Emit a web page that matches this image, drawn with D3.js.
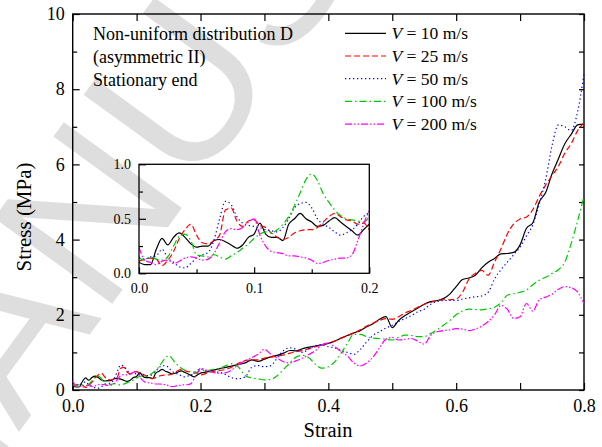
<!DOCTYPE html>
<html>
<head>
<meta charset="utf-8">
<script src="https://cdn.jsdelivr.net/npm/d3@7"></script>
<style>
  body { margin: 0; background: #fff; }
  text { font-family: "Liberation Serif", "Times New Roman", serif; fill: #000; }
</style>
</head>
<body>
<svg id="chart" width="602" height="447"></svg>
<script>
// strain samples: fine steps up to 0.2 (inset range), then 0.01 steps
var strain = [0,0.005,0.01,0.015,0.02,0.025,0.03,0.035,0.04,0.045,0.05,0.055,0.06,0.065,0.07,0.075,0.08,0.085,0.09,0.095,
  0.1,0.105,0.11,0.115,0.12,0.125,0.13,0.135,0.14,0.145,0.15,0.155,0.16,0.165,0.17,0.175,0.18,0.185,0.19,0.195,0.2,
  0.21,0.22,0.23,0.24,0.25,0.26,0.27,0.28,0.29,0.3,0.31,0.32,0.33,0.34,0.35,0.36,0.37,0.38,0.39,0.4,
  0.41,0.42,0.43,0.44,0.45,0.46,0.47,0.48,0.49,0.5,0.51,0.52,0.53,0.54,0.55,0.56,0.57,0.58,0.59,0.6,
  0.61,0.62,0.63,0.64,0.65,0.66,0.67,0.68,0.69,0.7,0.71,0.72,0.73,0.74,0.75,0.76,0.77,0.78,0.79,0.8];

// stress (MPa) for each impact velocity
var v10 = [0.10,0.08,0.08,0.22,0.32,0.26,0.33,0.37,0.33,0.27,0.24,0.25,0.25,0.30,0.31,0.29,0.26,0.23,0.26,0.33,
  0.36,0.46,0.36,0.33,0.33,0.30,0.45,0.50,0.55,0.50,0.47,0.43,0.44,0.48,0.51,0.47,0.43,0.39,0.35,0.40,0.45,
  0.48,0.53,0.57,0.60,0.64,0.68,0.72,0.80,0.76,0.82,0.88,0.92,0.98,1.05,1.04,1.10,1.14,1.17,1.20,1.24,
  1.30,1.38,1.45,1.52,1.58,1.68,1.76,1.88,1.95,1.66,1.85,1.98,2.08,2.18,2.28,2.35,2.38,2.43,2.55,2.75,
  2.94,2.98,3.05,3.25,3.40,3.50,3.62,3.63,3.66,3.86,4.30,4.45,5.00,5.25,5.75,6.15,6.55,6.80,7.05,7.07];
var v25 = [0.11,0.13,0.14,0.13,0.07,0.12,0.20,0.32,0.40,0.45,0.35,0.28,0.27,0.30,0.35,0.58,0.60,0.48,0.43,0.48,
  0.49,0.44,0.42,0.37,0.33,0.31,0.33,0.37,0.39,0.40,0.40,0.42,0.47,0.52,0.55,0.52,0.49,0.48,0.45,0.46,0.40,
  0.45,0.50,0.52,0.55,0.62,0.72,0.78,0.80,0.80,0.85,0.88,0.90,0.93,0.98,1.02,1.05,1.10,1.15,1.20,1.25,
  1.30,1.38,1.45,1.52,1.60,1.70,1.78,1.85,1.90,1.88,1.95,2.05,2.12,2.20,2.28,2.33,2.38,2.40,2.40,2.42,
  2.60,2.95,3.10,3.18,3.05,3.40,3.75,4.15,4.42,4.55,4.60,4.80,5.15,5.45,5.70,5.95,6.30,6.55,6.90,7.10];
var v50 = [0.15,0.13,0.15,0.16,0.22,0.14,0.10,0.06,0.05,0.09,0.14,0.17,0.19,0.30,0.50,0.66,0.63,0.52,0.46,0.44,
  0.43,0.42,0.40,0.39,0.38,0.42,0.50,0.60,0.64,0.65,0.60,0.50,0.45,0.42,0.38,0.35,0.37,0.40,0.45,0.52,0.56,
  0.50,0.48,0.47,0.40,0.32,0.30,0.35,0.60,0.65,0.62,0.65,0.85,1.05,1.12,1.08,1.00,1.10,1.18,1.20,1.15,
  1.12,1.05,1.00,0.95,1.08,1.28,1.45,1.55,1.65,1.72,1.82,1.90,1.98,2.08,2.15,2.28,2.35,2.38,2.38,2.38,
  2.42,2.45,2.48,2.50,2.60,2.95,3.20,3.40,3.60,3.80,4.10,4.40,4.95,5.60,6.50,7.05,7.00,6.90,7.40,8.40];
var v100 = [0.14,0.12,0.15,0.13,0.12,0.15,0.25,0.34,0.36,0.30,0.17,0.16,0.15,0.17,0.15,0.13,0.16,0.19,0.23,0.27,
  0.32,0.36,0.38,0.37,0.40,0.45,0.52,0.62,0.74,0.86,0.91,0.85,0.73,0.65,0.58,0.53,0.50,0.49,0.48,0.47,0.52,
  0.52,0.55,0.58,0.65,0.70,0.60,0.38,0.32,0.30,0.27,0.28,0.38,0.55,0.72,0.88,0.92,0.85,0.68,0.58,0.62,
  0.75,0.98,1.25,1.48,1.48,1.42,1.38,1.37,1.35,1.33,1.40,1.46,1.45,1.42,1.42,1.50,1.60,1.72,1.85,2.00,
  2.10,2.15,2.14,2.13,2.16,2.20,2.32,2.52,2.56,2.60,2.66,2.80,2.92,3.00,3.10,3.20,3.40,3.90,4.50,5.15];
var v200 = [0.24,0.12,0.10,0.08,0.11,0.12,0.09,0.11,0.14,0.15,0.14,0.12,0.13,0.18,0.28,0.38,0.41,0.40,0.42,0.47,
  0.50,0.35,0.25,0.20,0.19,0.18,0.16,0.16,0.15,0.14,0.12,0.09,0.10,0.12,0.13,0.14,0.14,0.17,0.30,0.45,0.58,
  0.52,0.47,0.44,0.46,0.55,0.68,0.78,0.86,0.95,1.08,0.95,0.85,0.75,0.72,0.78,0.85,0.95,1.05,1.20,1.25,
  1.15,1.02,0.90,0.72,0.64,0.72,0.88,1.12,1.35,1.40,1.33,1.35,1.37,1.30,1.22,1.45,1.55,1.58,1.60,1.63,
  1.62,1.58,1.62,1.70,1.82,2.00,2.25,2.15,1.90,1.95,2.30,2.10,2.40,2.47,2.55,2.68,2.75,2.72,2.60,2.30];

var speeds = ["10", "25", "50", "100", "200"];
var xTickVals = [0, 0.2, 0.4, 0.6, 0.8];
var yTickVals = [0, 2, 4, 6, 8, 10];
var insetXTicks = [0, 0.1, 0.2];
var insetYTicks = [0, 0.5, 1.0];
var note = ["Non-uniform distribution D", "(asymmetric II)", "Stationary end"];

var series = [v10, v25, v50, v100, v200];
var colors = ["#000000", "#ff0000", "#0000ff", "#00c800", "#ff00ff"];
var dashes = [null, "6,3", "1.3,2.7", "7,3,1.5,3", "7,2,1.5,2,1.5,2"];

var svg = d3.select("#chart");

// faint manuscript watermark behind everything
svg.append("text")
    .attr("transform", "translate(-85,575) rotate(-54)")
    .style("font-family", "'Liberation Sans', Arial, sans-serif")
    .style("font-size", "212px")
    .style("fill", "#dedede")
    .text("MANUSCRIPT");

var x = d3.scaleLinear().domain([0, 0.8]).range([72.7, 584]);
var y = d3.scaleLinear().domain([0, 10]).range([390, 14]);

function styleAxis(g, size) {
  g.select(".domain").remove();
  g.selectAll("line").attr("stroke", "#000").attr("stroke-width", 1.2);
  g.selectAll("text").style("font-family", "'Liberation Serif', serif").style("font-size", size + "px").attr("fill", "#000");
}

// main axes, ticks pointing inward
svg.append("g").attr("transform", "translate(0,390)")
    .call(d3.axisBottom(x).tickValues(xTickVals).tickSize(-7).tickPadding(9).tickFormat(d3.format(".1f")))
    .call(styleAxis, 18);
svg.append("g").attr("transform", "translate(0,390)")
    .call(d3.axisBottom(x).tickValues([0.1, 0.3, 0.5, 0.7]).tickSize(-7).tickFormat(""))
    .call(styleAxis, 18);
svg.append("g").attr("transform", "translate(0,14)")
    .call(d3.axisTop(x).ticks(8).tickSize(-7).tickFormat(""))
    .call(styleAxis, 18);
svg.append("g").attr("transform", "translate(72.7,0)")
    .call(d3.axisLeft(y).tickValues(yTickVals).tickSize(-7).tickPadding(8).tickFormat(d3.format("d")))
    .call(styleAxis, 18);
svg.append("g").attr("transform", "translate(72.7,0)")
    .call(d3.axisLeft(y).tickValues([1, 3, 5, 7, 9]).tickSize(-4.5).tickFormat(""))
    .call(styleAxis, 18);
svg.append("g").attr("transform", "translate(584,0)")
    .call(d3.axisRight(y).ticks(10).tickSize(-5).tickFormat(""))
    .call(styleAxis, 18);

svg.append("rect")
    .attr("x", 72.7).attr("y", 14).attr("width", 584 - 72.7).attr("height", 376)
    .attr("fill", "none").attr("stroke", "#000").attr("stroke-width", 1.4);

svg.append("text")
    .attr("x", 328).attr("y", 437).attr("text-anchor", "middle")
    .style("font-size", "20.5px").text("Strain");
svg.append("text")
    .attr("transform", "translate(31,217) rotate(-90)").attr("text-anchor", "middle")
    .style("font-size", "21px").text("Stress (MPa)");

// curves
var mainLine = d3.line()
    .x(function(d, i) { return x(strain[i]); })
    .y(function(d) { return y(d); })
    .curve(d3.curveMonotoneX);

svg.selectAll(".curve")
    .data(series)
    .enter()
    .append("path")
      .attr("class", "curve")
      .attr("d", mainLine)
      .attr("fill", "none")
      .attr("stroke", function(d, i) { return colors[i]; })
      .attr("stroke-width", 1.2)
      .attr("stroke-dasharray", function(d, i) { return dashes[i]; });

// annotation
svg.selectAll(".note")
    .data(note)
    .enter()
    .append("text")
      .attr("class", "note")
      .attr("x", 93)
      .attr("y", function(d, i) { return 39.5 + i * 23.2; })
      .style("font-size", "18px")
      .text(function(d) { return d; });

// legend
var leg = svg.selectAll(".leg")
    .data(speeds)
    .enter()
    .append("g")
      .attr("class", "leg")
      .attr("transform", function(d, i) { return "translate(0," + (33.3 + i * 22.7) + ")"; });
leg.append("line")
    .attr("x1", 345).attr("x2", 386)
    .attr("stroke", function(d, i) { return colors[i]; })
    .attr("stroke-width", 1.2)
    .attr("stroke-dasharray", function(d, i) { return dashes[i]; });
var legText = leg.append("text")
    .attr("x", 391.5).attr("y", 5.8)
    .style("font-size", "17.5px");
legText.append("tspan").style("font-style", "italic").text("V");
legText.append("tspan").text(function(d) { return " = " + d + " m/s"; });

// inset: first 0.2 of strain
var xi = d3.scaleLinear().domain([0, 0.2]).range([139, 369.3]);
var yi = d3.scaleLinear().domain([0, 1]).range([273.3, 164.3]);
var inset = svg.append("g");

inset.append("clipPath").attr("id", "insetClip")
  .append("rect").attr("x", 139).attr("y", 164.3).attr("width", 230.3).attr("height", 109);

inset.append("g").attr("transform", "translate(0,273.3)")
    .call(d3.axisBottom(xi).tickValues(insetXTicks).tickSize(-6).tickPadding(9.5).tickFormat(d3.format(".1f")))
    .call(styleAxis, 14);
inset.append("g").attr("transform", "translate(0,273.3)")
    .call(d3.axisBottom(xi).tickValues([0.05, 0.15]).tickSize(-4).tickFormat(""))
    .call(styleAxis, 14);
inset.append("g").attr("transform", "translate(139,0)")
    .call(d3.axisLeft(yi).tickValues(insetYTicks).tickSize(-7).tickPadding(8).tickFormat(d3.format(".1f")))
    .call(styleAxis, 14);
inset.append("g").attr("transform", "translate(139,0)")
    .call(d3.axisLeft(yi).tickValues([0.25, 0.75]).tickSize(-4).tickFormat(""))
    .call(styleAxis, 14);

var insetLine = d3.line()
    .x(function(d, i) { return xi(strain[i]); })
    .y(function(d) { return yi(d); })
    .curve(d3.curveMonotoneX);

inset.append("g").attr("clip-path", "url(#insetClip)")
  .selectAll("path")
  .data(series)
  .enter()
  .append("path")
    .attr("d", function(d) { return insetLine(d.slice(0, 41)); })
    .attr("fill", "none")
    .attr("stroke", function(d, i) { return colors[i]; })
    .attr("stroke-width", 1.2)
    .attr("stroke-dasharray", function(d, i) { return dashes[i]; });

inset.append("rect")
    .attr("x", 139).attr("y", 164.3).attr("width", 230.3).attr("height", 109)
    .attr("fill", "none").attr("stroke", "#000").attr("stroke-width", 1.3);
</script>
</body>
</html>
